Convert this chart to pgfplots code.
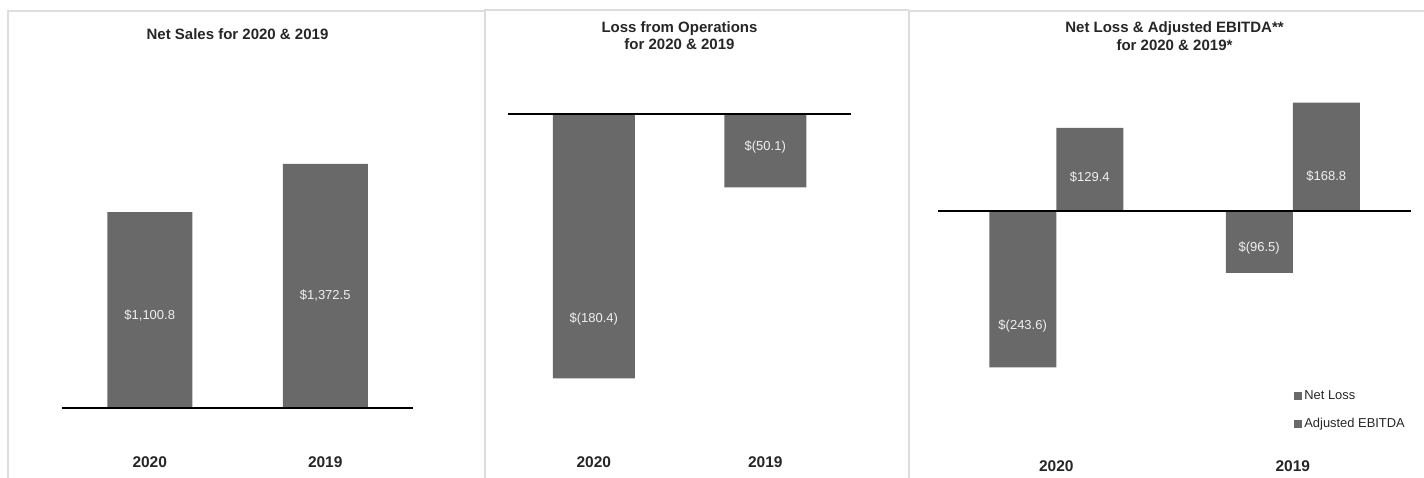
\documentclass[border=0pt]{standalone}
\usepackage{fontspec}
\setmainfont{Liberation Sans}
\usepackage{pgfplots}
\pgfplotsset{compat=1.18}

\definecolor{bargray}{HTML}{696969}
\definecolor{framegray}{HTML}{DDDDDD}
\definecolor{textdark}{HTML}{262626}

\pgfplotsset{
  panel/.style={
    scale only axis,
    axis line style={draw=none},
    ytick=\empty,
    xtick={0,1},
    xticklabels={2020,2019},
    major tick length=0pt,
    xmin=-0.5, xmax=1.5,
    clip=false,
    x tick label style={font=\fontsize{15.5}{18}\selectfont\bfseries, text=textdark},
    title style={font=\fontsize{15}{17.7}\selectfont\bfseries, text=textdark,
      align=center, anchor=center, at={(0.5,1)}},
  },
  bars/.style={ybar, fill=bargray, draw=none},
  labels/.style={draw=none, mark=none, forget plot, nodes near coords,
    point meta=explicit symbolic,
    every node near coord/.append style={anchor=center, inner sep=0pt,
      text=white!94!black, font=\fontsize{13}{15}\selectfont}},
  zeroline/.style={black, line width=1.6pt, forget plot, mark=none},
}

\begin{document}
\begin{tikzpicture}
\path[use as bounding box] (0,0) rectangle (1424pt,478pt);

% panel frames
\draw[framegray, line width=1.5pt] (8pt,0pt) -- (8pt,467pt) -- (485pt,467pt);
\draw[framegray, line width=1.5pt] (485pt,0pt) -- (485pt,468pt) -- (909pt,468pt);
\draw[framegray, line width=1.5pt] (909pt,0pt) -- (909pt,467pt) -- (1424pt,467pt);

% Net sales
\begin{axis}[panel,
    at={(62pt,70pt)}, anchor=south west,
    width=351pt, height=284.6pt,
    ymin=0, ymax=1600,
    title={Net Sales for 2020 \& 2019},
    title style={yshift=83.4pt},
    x tick label style={yshift=-45.3pt}]
  \addplot[bars, bar width=85pt] coordinates {(0,1100.8) (1,1372.5)};
  \addplot[zeroline] coordinates {(-0.5,0) (1.5,0)};
  \addplot[labels] coordinates {(0,522) [\$1,100.8] (1,635) [\$1,372.5]};
\end{axis}

% Loss from operations
\begin{axis}[panel,
    at={(508pt,70.8pt)}, anchor=south west,
    width=343pt, height=307.9pt,
    ymin=-200, ymax=10,
    title={Loss from Operations\\for 2020 \& 2019},
    title style={yshift=57.8pt},
    x tick label style={yshift=-46.1pt}]
  \addplot[bars, bar width=82pt] coordinates {(0,-180.4) (1,-50.1)};
  \addplot[zeroline] coordinates {(-0.5,0) (1.5,0)};
  \addplot[labels] coordinates {(0,-140) [\$(180.4)] (1,-22.5) [\$(50.1)]};
\end{axis}

% Net loss and adjusted EBITDA
\begin{axis}[panel,
    at={(938pt,74.4pt)}, anchor=south west,
    width=473pt, height=321pt,
    ymin=-300, ymax=200,
    title={Net Loss \& Adjusted EBITDA**\\for 2020 \& 2019*},
    title style={yshift=40.6pt},
    x tick label style={yshift=-53.7pt},
    legend style={draw=none, fill=none, at={(0.753,0.046)}, anchor=north west,
      font=\fontsize{12.9}{15}\selectfont, text=textdark, row sep=13pt,
      inner sep=0pt},
    legend cell align=left,
    legend image code/.code={\fill[bargray] (0pt,-4pt) rectangle (8pt,4pt);}]
  \addplot[bars, bar width=67pt, bar shift=-33.5pt] coordinates {(0,-243.6) (1,-96.5)};
  \addplot[bars, bar width=67pt, bar shift=33.5pt] coordinates {(0,129.4) (1,168.8)};
  \addplot[zeroline] coordinates {(-0.5,0) (1.5,0)};
  \addplot[labels] coordinates {(-0.142,-179) [\$(243.6)] (0.142,53) [\$129.4]
                                (0.858,-57.6) [\$(96.5)] (1.142,54.5) [\$168.8]};
  \legend{Net Loss, Adjusted EBITDA}
\end{axis}
\end{tikzpicture}
\end{document}
